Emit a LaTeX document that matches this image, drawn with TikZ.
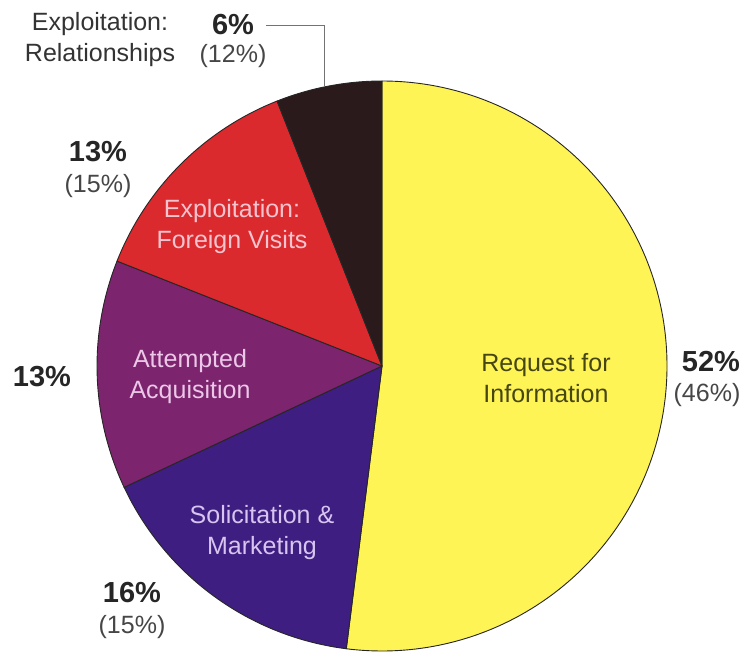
\documentclass[tikz,border=0pt]{standalone}
\usepackage{fontspec}
\setmainfont{Liberation Sans}

\definecolor{infoyellow}{RGB}{255,244,85}
\definecolor{relblack}{RGB}{42,26,28}
\definecolor{visitred}{RGB}{218,42,46}
\definecolor{acqpurple}{RGB}{124,36,110}
\definecolor{solblue}{RGB}{62,30,128}
\definecolor{pctgray}{RGB}{70,70,70}

\begin{document}
\begin{tikzpicture}
[every node/.style={inner sep=0pt, align=center, font=\fontsize{25}{31}\selectfont},
 slice/.style={draw=black!85, line width=0.9pt, line join=round},
 pct/.style={font=\fontsize{29}{31}\selectfont\bfseries, text=black!85},
 prev/.style={font=\fontsize{25}{31}\selectfont, text=pctgray}]
\useasboundingbox (0pt, 0pt) rectangle (752pt, -656pt);
\coordinate (c) at (382pt, -366pt);
% slices, clockwise from the top
\filldraw [slice, fill=infoyellow] (c) -- ++(90:285pt) arc (90:-97.2:285pt) -- cycle;
\filldraw [slice, fill=solblue] (c) -- ++(-97.2:285pt) arc (-97.2:-154.8:285pt) -- cycle;
\filldraw [slice, fill=acqpurple] (c) -- ++(-154.8:285pt) arc (-154.8:-201.6:285pt) -- cycle;
\filldraw [slice, fill=visitred] (c) -- ++(158.4:285pt) arc (158.4:111.6:285pt) -- cycle;
\filldraw [slice, fill=relblack] (c) -- ++(111.6:285pt) arc (111.6:90:285pt) -- cycle;
% texts in the slices
\node (info) [text={rgb,255:red,70;green,70;blue,20}] at (546pt, -378pt) {Request for\\Information};
\node (sol) [text={rgb,255:red,215;green,196;blue,240}] at (262pt, -533pt) {Solicitation \&\\Marketing};
\node (acq) [text={rgb,255:red,236;green,200;blue,232}] at (190pt, -377pt) {Attempted\\Acquisition};
\node (visit) [text={rgb,255:red,246;green,196;blue,206}] at (232pt, -227pt) {Exploitation:\\Foreign Visits};
\node (rel) [text=black!80] at (100pt, -40pt) {Exploitation:\\Relationships};
% percentages
\node (infopct) [pct] at (711pt, -362pt) {52\%};
\node (infoprev) [prev] at (707pt, -395pt) {(46\%)};
\node (solpct) [pct] at (132pt, -593pt) {16\%};
\node (solprev) [prev] at (132pt, -627pt) {(15\%)};
\node (acqpct) [pct] at (42pt, -377pt) {13\%};
\node (visitpct) [pct] at (98pt, -152pt) {13\%};
\node (visitprev) [prev] at (98pt, -186pt) {(15\%)};
\node (relpct) [pct] at (233pt, -25pt) {6\%};
\node (relprev) [prev] at (233pt, -56pt) {(12\%)};
% leader to the black slice
\coordinate (lead) at ([shift={(101.7:285pt)}]c);
\draw [line width=0.9pt, color=black!55] ([xshift=12pt]relpct.east) -| (lead);
\end{tikzpicture}
\end{document}
